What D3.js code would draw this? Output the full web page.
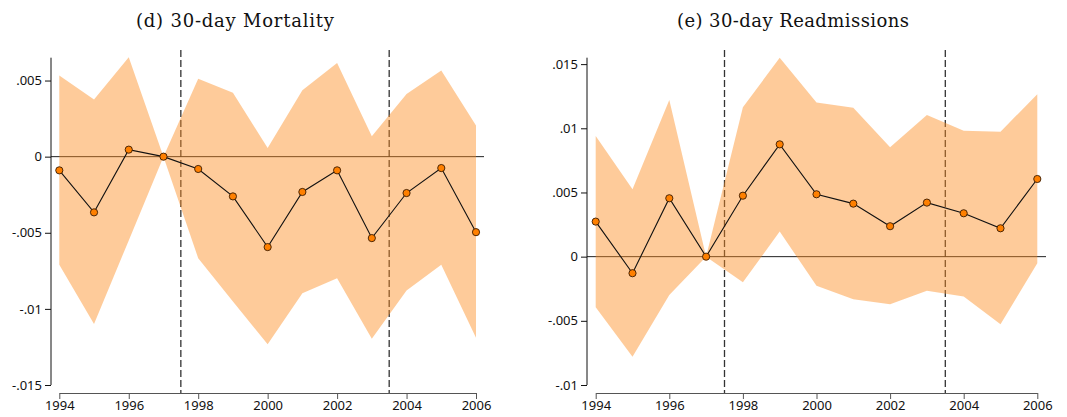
<!DOCTYPE html>
<html>
<head>
<meta charset="utf-8">
<script src="https://cdn.jsdelivr.net/npm/d3@7"></script>
<style>
  body { margin: 0; background: #fff; }
  .tick text { font-family: "Noto Sans", sans-serif; font-size: 13px; fill: #111; }
</style>
</head>
<body>
<div id="chart"></div>
<script>
var years = [1994,1995,1996,1997,1998,1999,2000,2001,2002,2003,2004,2005,2006];

// (d) 30-day Mortality
var mort_est   = [-0.0009,-0.00366,0.00046,0,-0.00081,-0.00261,-0.00594,-0.00232,-0.0009,-0.00535,-0.00239,-0.00075,-0.00496];
var mort_upper = [0.00533,0.00375,0.00653,0,0.00511,0.00419,0.00057,0.00436,0.00616,0.00134,0.00412,0.00566,0.00204];
var mort_lower = [-0.0071,-0.01099,-0.0055,0,-0.00667,-0.00952,-0.01232,-0.00897,-0.00798,-0.01197,-0.0088,-0.0071,-0.01189];
var mort_yticks = [-0.015,-0.01,-0.005,0,0.005];

// (e) 30-day Readmissions
var read_est   = [0.00273,-0.00129,0.00455,0,0.00475,0.00875,0.00486,0.00413,0.00237,0.00421,0.00338,0.00221,0.00605];
var read_upper = [0.0094,0.00525,0.0122,0,0.01163,0.0155,0.012,0.0116,0.00852,0.01104,0.00981,0.00974,0.01265];
var read_lower = [-0.00394,-0.00779,-0.00298,0,-0.002,0.00195,-0.00226,-0.00332,-0.00371,-0.00265,-0.00311,-0.00527,-0.00052];
var read_yticks = [-0.01,-0.005,0,0.005,0.01,0.015];

var xticks = [1994,1996,1998,2000,2002,2004,2006];
var cutoffs = [1997.5, 2003.5];

var chart_width  = 1067;
var chart_height = 417;

var svg = d3.select('#chart')
    .append('svg')
    .attr('width', chart_width)
    .attr('height', chart_height);

// strip the leading zero like Stata does: .005, -.01
function fmt(d) {
    if (d === 0) return '0';
    var s = String(+d.toFixed(4));
    return s.replace('0.', '.');
}

function panel(opts) {
    var g = svg.append('g');

    var x_scale = d3.scaleLinear()
        .domain([1994, 2006])
        .range([opts.x0, opts.x1]);

    var y_scale = d3.scaleLinear()
        .domain(opts.ydomain)
        .range([385, 57.7]);

    // title
    g.append('text')
        .text(opts.title)
        .attr('x', opts.title_x)
        .attr('y', 26.5)
        .attr('text-anchor', 'middle')
        .attr('font-family', '"DejaVu Serif", serif')
        .attr('font-size', 18)
        .attr('textLength', opts.title_w)
        .attr('lengthAdjust', 'spacing')
        .attr('fill', '#111');

    // vertical dashed cutoffs
    g.selectAll('line.cut')
        .data(cutoffs)
        .enter()
        .append('line')
        .attr('x1', function(d){ return x_scale(d); })
        .attr('x2', function(d){ return x_scale(d); })
        .attr('y1', 50)
        .attr('y2', 393)
        .attr('stroke', '#333')
        .attr('stroke-width', 1.3)
        .attr('stroke-dasharray', '7,3');

    // zero line
    g.append('line')
        .attr('x1', opts.yaxis_x)
        .attr('x2', opts.zero_end)
        .attr('y1', y_scale(0))
        .attr('y2', y_scale(0))
        .attr('stroke', '#222')
        .attr('stroke-width', 1);

    // confidence band, semi transparent so lines underneath show brown
    var area = d3.area()
        .x(function(d, i){ return x_scale(years[i]); })
        .y0(function(d, i){ return y_scale(opts.lower[i]); })
        .y1(function(d){ return y_scale(d); });

    g.append('path')
        .datum(opts.upper)
        .attr('d', area)
        .attr('fill', 'rgb(253,140,30)')
        .attr('fill-opacity', 0.45);

    // y axis
    var y_axis = d3.axisLeft(y_scale)
        .tickValues(opts.yticks)
        .tickFormat(fmt)
        .tickSize(6)
        .tickSizeOuter(0)
        .tickPadding(3);

    var ya = g.append('g')
        .attr('transform', 'translate(' + opts.yaxis_x + ',0)')
        .call(y_axis);
    ya.select('.domain').attr('stroke', '#111').attr('d', 'M0,' + y_scale.range()[1] + 'V' + y_scale(opts.yticks[0]));
    ya.selectAll('.tick line').attr('stroke', '#111');

    // x axis
    var x_axis = d3.axisBottom(x_scale)
        .tickValues(xticks)
        .tickFormat(d3.format('d'))
        .tickSize(6)
        .tickSizeOuter(0)
        .tickPadding(2);

    var xa = g.append('g')
        .attr('transform', 'translate(0,393)')
        .call(x_axis);
    xa.selectAll('.domain, .tick line').attr('stroke', '#555');

    // estimates
    var line = d3.line()
        .x(function(d, i){ return x_scale(years[i]); })
        .y(function(d){ return y_scale(d); });

    g.append('path')
        .datum(opts.est)
        .attr('d', line)
        .attr('fill', 'none')
        .attr('stroke', '#111')
        .attr('stroke-width', 1.1);

    g.selectAll('circle')
        .data(opts.est)
        .enter()
        .append('circle')
        .attr('cx', function(d, i){ return x_scale(years[i]); })
        .attr('cy', function(d){ return y_scale(d); })
        .attr('r', 3.6)
        .attr('fill', '#ff8000')
        .attr('stroke', '#3a1a00')
        .attr('stroke-width', 0.9);
}

panel({
    title: '(d) 30-day Mortality',
    title_x: 235, title_w: 198,
    x0: 59.3, x1: 476,
    yaxis_x: 51, zero_end: 484,
    ydomain: [-0.015, 0.0065],
    yticks: mort_yticks,
    est: mort_est, upper: mort_upper, lower: mort_lower
});

panel({
    title: '(e) 30-day Readmissions',
    title_x: 793, title_w: 232,
    x0: 595.7, x1: 1037.3,
    yaxis_x: 587, zero_end: 1046,
    ydomain: [-0.01, 0.0155],
    yticks: read_yticks,
    est: read_est, upper: read_upper, lower: read_lower
});
</script>
</body>
</html>
